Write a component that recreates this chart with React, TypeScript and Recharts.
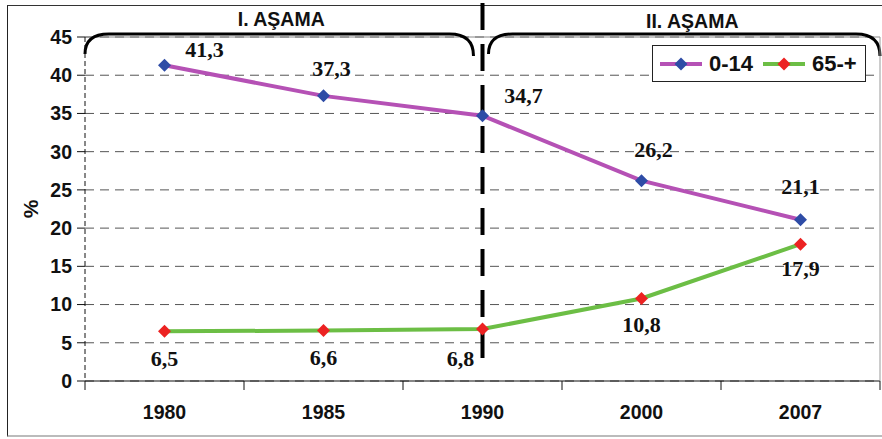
import {
  LineChart,
  Line,
  XAxis,
  YAxis,
  CartesianGrid,
  ReferenceLine,
  LabelList,
} from "recharts";

const years = ["1980", "1985", "1990", "2000", "2007"];
const age0to14 = [41.3, 37.3, 34.7, 26.2, 21.1];
const age65plus = [6.5, 6.6, 6.8, 10.8, 17.9];
const yTicks = [0, 5, 10, 15, 20, 25, 30, 35, 40, 45];
const phaseTitles = ["I. AŞAMA", "II. AŞAMA"];
const seriesNames = ["0-14", "65-+"];

const data = years.map((year, i) => ({
  year,
  young: age0to14[i],
  old: age65plus[i],
}));

// label nudges (px) so the numbers sit where the original put them
const youngLabelShift = [[40, -16], [8, -27], [41, -20], [12, -31], [0, -33]];
const oldLabelShift = [[0, 27], [0, 27], [-22, 29], [0, 26], [0, 24]];

const W = 882;
const H = 439;
const MARGIN = { top: 37, right: 0, bottom: 0, left: 0 };
const Y_W = 85;
const PLOT_L = MARGIN.left + Y_W;
const PLOT_R = W - MARGIN.right - 2;
const BAND = (PLOT_R - PLOT_L) / years.length;

const PURPLE = "#B551B5";
const GREEN = "#6CBE45";
const BLUE = "#2E4CA6";
const RED = "#EC2222";

const sans = "'Liberation Sans', Arial, sans-serif";
const serif = "'Liberation Serif', 'Times New Roman', serif";

const Diamond = (fill: string) => (props: any) => {
  const { cx, cy } = props;
  if (cx == null || cy == null) return null;
  const r = 6.5;
  return (
    <path
      d={`M${cx},${cy - r} L${cx + r},${cy} L${cx},${cy + r} L${cx - r},${cy} Z`}
      fill={fill}
    />
  );
};

const valueLabel = (shift: number[][]) => (props: any) => {
  const { x, y, value, index } = props;
  const [dx, dy] = shift[index] || [0, 0];
  return (
    <text
      x={x + dx}
      y={y + dy}
      textAnchor="middle"
      dominantBaseline="central"
      fontFamily={serif}
      fontWeight="bold"
      fontSize={22}
      fill="#111"
    >
      {String(value).replace(".", ",")}
    </text>
  );
};

const YearTick = (props: any) => {
  const { x, y, payload, index } = props;
  const axisY = y - 8;
  const left = x - BAND / 2;
  return (
    <g>
      <line x1={left} y1={axisY} x2={left} y2={axisY + 9} stroke="#111" />
      {index === years.length - 1 && (
        <line x1={x + BAND / 2} y1={axisY} x2={x + BAND / 2} y2={axisY + 9} stroke="#111" />
      )}
      <text
        x={x}
        y={axisY + 31}
        textAnchor="middle"
        dominantBaseline="central"
        fontFamily={sans}
        fontWeight="bold"
        fontSize={19.5}
        fill="#111"
      >
        {payload.value}
      </text>
    </g>
  );
};

// dashed divider at 1990 plus the two braces and phase titles
const PhaseDivider = (props: any) => {
  const { x1, y1, y2 } = props;
  const x = x1;
  const plotTop = Math.min(y1, y2);
  const plotBottom = Math.max(y1, y2);
  const top = plotTop - 34;
  const bottom = plotBottom - 16;
  const bY = plotTop - 3;
  const bDrop = 20;
  const lA = PLOT_L;
  const lB = x - 9;
  const rA = x + 6;
  const rB = PLOT_R;
  const brace = (a: number, b: number) =>
    `M${a},${bY + bDrop} Q${a},${bY} ${a + 24},${bY} L${b - 24},${bY} Q${b},${bY} ${b},${bY + bDrop + 2}`;
  const titleStyle = {
    textAnchor: "middle" as const,
    dominantBaseline: "central" as const,
    fontFamily: sans,
    fontWeight: "bold",
    fontSize: 19.5,
    fill: "#111",
  };
  return (
    <g>
      <line
        x1={x}
        y1={top}
        x2={x}
        y2={bottom}
        stroke="#000"
        strokeWidth={4}
        strokeDasharray="27 14"
      />
      <path d={brace(lA, lB)} fill="none" stroke="#000" strokeWidth={3} />
      <path d={brace(rA, rB)} fill="none" stroke="#000" strokeWidth={3} />
      <text x={(lA + lB) / 2 + 2} y={top + 16} {...titleStyle}>
        {phaseTitles[0]}
      </text>
      <text x={(rA + rB) / 2 + 8} y={top + 18} {...titleStyle}>
        {phaseTitles[1]}
      </text>
    </g>
  );
};

const LegendBox = () => {
  const item = (line: string, dot: string, label: string) => (
    <div style={{ display: "flex", alignItems: "center", marginRight: 8 }}>
      <svg width={46} height={16}>
        <line x1={2} y1={8} x2={44} y2={8} stroke={line} strokeWidth={4} />
        <path d="M23,1.5 L29.5,8 L23,14.5 L16.5,8 Z" fill={dot} />
      </svg>
      <span style={{ fontFamily: sans, fontWeight: "bold", fontSize: 22, marginLeft: 5, color: "#111" }}>
        {label}
      </span>
    </div>
  );
  return (
    <div
      style={{
        position: "absolute",
        left: 652,
        top: 45,
        display: "flex",
        alignItems: "center",
        background: "#fff",
        border: "1px solid #222",
        width: 214,
        height: 37,
        boxSizing: "border-box",
        paddingLeft: 5,
      }}
    >
      {item(PURPLE, BLUE, seriesNames[0])}
      {item(GREEN, RED, seriesNames[1])}
    </div>
  );
};

export default function App() {
  return (
    <div style={{ position: "absolute", left: 0, top: 0, width: W, height: H, background: "#fff" }}>
      <div
        style={{
          position: "absolute",
          left: 7,
          top: 5,
          width: W - 7,
          height: H - 7,
          borderLeft: "1.5px solid #222",
          borderTop: "1.5px solid #333",
          borderBottom: "2px solid #bbb",
          boxSizing: "border-box",
        }}
      />
      <div style={{ position: "absolute", left: 0, top: 0 }}>
        <LineChart width={W} height={H} data={data} margin={MARGIN}>
          <CartesianGrid
            horizontal
            vertical={false}
            stroke="#555"
            strokeDasharray="9 6"
          />
          <XAxis
            dataKey="year"
            height={58}
            interval={0}
            padding={{ left: BAND / 2, right: BAND / 2 }}
            axisLine={{ stroke: "#111", strokeWidth: 1.2 }}
            tickLine={false}
            tick={<YearTick />}
          />
          <YAxis
            yAxisId={0}
            width={Y_W}
            domain={[0, 45]}
            ticks={yTicks}
            interval={0}
            tickSize={8}
            tickMargin={5}
            axisLine={{ stroke: "#111", strokeDasharray: "5 3" }}
            tickLine={{ stroke: "#111" }}
            tick={{ fontFamily: sans, fontWeight: "bold", fontSize: 19.5, fill: "#111" }}
            label={{
              value: "%",
              angle: -90,
              position: "center",
              dx: -12,
              style: { fontFamily: sans, fontWeight: "bold", fontSize: 21, fill: "#111" },
            }}
          />
          <YAxis
            yAxisId="r"
            orientation="right"
            width={2}
            domain={[0, 45]}
            tick={false}
            tickLine={false}
            axisLine={{ stroke: "#999" }}
          />
          <ReferenceLine yAxisId={0} y={45} stroke="#888" />
          <Line
            yAxisId={0}
            type="linear"
            dataKey="young"
            name={seriesNames[0]}
            stroke={PURPLE}
            strokeWidth={4}
            dot={Diamond(BLUE)}
            activeDot={false}
            isAnimationActive={false}
          >
            <LabelList dataKey="young" content={valueLabel(youngLabelShift)} />
          </Line>
          <Line
            yAxisId={0}
            type="linear"
            dataKey="old"
            name={seriesNames[1]}
            stroke={GREEN}
            strokeWidth={4}
            dot={Diamond(RED)}
            activeDot={false}
            isAnimationActive={false}
          >
            <LabelList dataKey="old" content={valueLabel(oldLabelShift)} />
          </Line>
          <ReferenceLine yAxisId={0} x="1990" shape={<PhaseDivider />} />
        </LineChart>
      </div>
      <LegendBox />
    </div>
  );
}
